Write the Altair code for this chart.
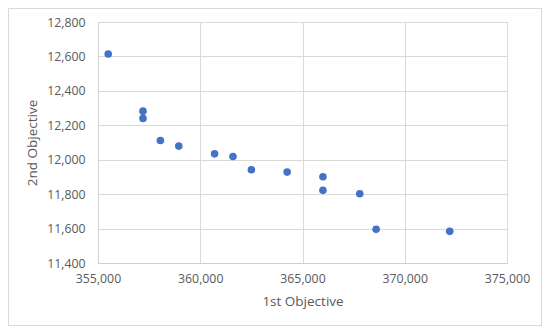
import altair as alt
import pandas as pd

obj1 = [355500, 357200, 357200, 358050, 358950, 360700, 361600, 362500,
        364250, 366000, 366000, 367800, 368600, 372200]
obj2 = [12614, 12282, 12240, 12112, 12079, 12034, 12019, 11942,
        11928, 11901, 11822, 11802, 11596, 11584]
x_ticks = [355000, 360000, 365000, 370000, 375000]
y_ticks = [11400, 11600, 11800, 12000, 12200, 12400, 12600, 12800]

df = pd.DataFrame({"x": obj1, "y": obj2})

W, H = 409, 241
FONT = "Open Sans"

points = alt.Chart(df).mark_circle(size=58, color="#4472C4", opacity=1).encode(
    x=alt.X("x:Q", title="1st Objective",
            scale=alt.Scale(domain=[355000, 375000], nice=False, zero=False),
            axis=alt.Axis(values=x_ticks, labelFlush=False,
                          format=",.0f", grid=True, gridColor="#d9d9d9",
                          domainColor="#d0d0d0", ticks=False, labelPadding=9,
                          labelColor="#595959", labelFont=FONT, labelFontSize=12.3,
                          titleColor="#595959", titleFont=FONT, titleFontSize=13.5,
                          titleFontWeight="normal", titlePadding=10)),
    y=alt.Y("y:Q", title="2nd Objective",
            scale=alt.Scale(domain=[11400, 12800], nice=False, zero=False),
            axis=alt.Axis(values=y_ticks, labelFlush=False,
                          format=",.0f", grid=True, gridColor="#d9d9d9",
                          domainColor="#d0d0d0", ticks=False, labelPadding=13,
                          labelColor="#595959", labelFont=FONT, labelFontSize=12.3,
                          titleColor="#595959", titleFont=FONT, titleFontSize=13.5,
                          titleFontWeight="normal", titlePadding=7)),
)

frame = alt.Chart(alt.Data(values=[{"a": 1}])).mark_rect(
    fillOpacity=0, stroke="#d9d9d9", strokeWidth=1
).encode(
    x=alt.value(-89.5), x2=alt.value(443.5), y=alt.value(-13.5), y2=alt.value(303.5)
)

chart = alt.layer(points, frame).properties(
    width=W, height=H,
    autosize=alt.AutoSizeParams(type="none"),
    padding={"left": 90, "top": 14, "right": 35, "bottom": 63},
).configure_view(stroke=None).configure(background="white")

chart.save("out.html", embed_options={"renderer": "svg", "actions": False})
